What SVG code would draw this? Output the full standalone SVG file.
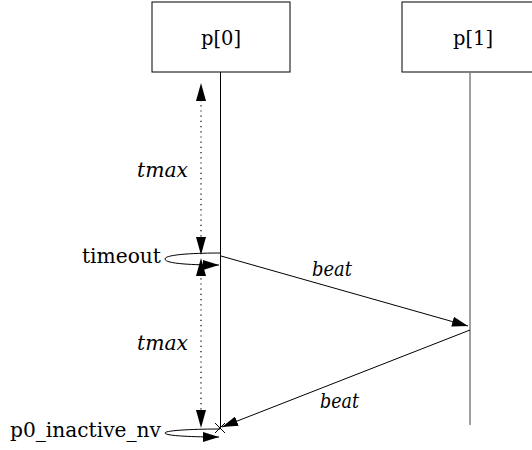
<svg xmlns="http://www.w3.org/2000/svg" width="532" height="450" viewBox="0 0 532 450">
<style>
.box{fill:#fff;stroke:#000;stroke-width:1}
.line{stroke:#000;stroke-width:1;fill:none}
.dot{stroke:#000;stroke-width:1.2;fill:none;stroke-dasharray:1.2 4}
text{font-family:"DejaVu Serif","Liberation Serif",serif;font-size:21px;fill:#000}
</style>
<defs>
<marker id="ah" viewBox="0 0 16 10" refX="16" refY="5" markerWidth="16" markerHeight="10" markerUnits="userSpaceOnUse" orient="auto">
<path d="M0,0 L16,5 L0,10 Z" fill="#000"/>
</marker>
<marker id="dh" viewBox="0 0 18 10" refX="18" refY="5" markerWidth="18" markerHeight="10" markerUnits="userSpaceOnUse" orient="auto">
<path d="M0,0 L18,5 L0,10 Z" fill="#000"/>
</marker>
</defs>
<g id="p0">
<rect class="box" x="152" y="2" width="138" height="70"/>
<text x="221" y="45" text-anchor="middle" textLength="40" lengthAdjust="spacingAndGlyphs">p[0]</text>
<line class="line" x1="220.5" y1="72" x2="220.5" y2="428"/>
</g>
<g id="p1">
<rect class="box" x="402" y="2" width="140" height="70"/>
<text x="473" y="45" text-anchor="middle" textLength="40" lengthAdjust="spacingAndGlyphs">p[1]</text>
<line x1="470" y1="72" x2="470" y2="425" stroke="#808080" stroke-width="1.5"/>
</g>
<g id="connectors">
<line class="dot" x1="201" y1="100" x2="201" y2="240"/>
<line class="dot" x1="201" y1="273" x2="201" y2="412"/>
<line class="line" x1="201" y1="180" x2="201" y2="83" marker-end="url(#dh)" stroke-opacity="0"/>
<line class="line" x1="201" y1="180" x2="201" y2="255" marker-end="url(#dh)" stroke-opacity="0"/>
<line class="line" x1="201" y1="340" x2="201" y2="258" marker-end="url(#dh)" stroke-opacity="0"/>
<line class="line" x1="201" y1="340" x2="201" y2="428" marker-end="url(#dh)" stroke-opacity="0"/>
<path class="line" d="M220,253 C200,253 165,254 165,259 C165,264 195,265 219,265" marker-end="url(#ah)"/>
<path class="line" d="M220,429 C200,429 165,430 165,433 C165,436 195,437 219,437" marker-end="url(#ah)"/>
<line class="line" x1="221" y1="256" x2="468" y2="326" marker-end="url(#ah)"/>
<line class="line" x1="470" y1="330" x2="222" y2="427" marker-end="url(#ah)"/>
<line class="line" x1="215" y1="423" x2="225" y2="433"/>
<line class="line" x1="225" y1="423" x2="215" y2="433"/>
</g>
<g id="labels">
<text font-style="italic" x="137" y="177" textLength="51" lengthAdjust="spacingAndGlyphs">tmax</text>
<text font-style="italic" x="137" y="350" textLength="51" lengthAdjust="spacingAndGlyphs">tmax</text>
<text x="82" y="263" textLength="79" lengthAdjust="spacingAndGlyphs">timeout</text>
<text x="10" y="437" textLength="151" lengthAdjust="spacingAndGlyphs">p0_inactive_nv</text>
<text font-style="italic" x="312" y="276" textLength="40" lengthAdjust="spacingAndGlyphs">beat</text>
<text font-style="italic" x="320" y="408" textLength="39" lengthAdjust="spacingAndGlyphs">beat</text>
</g>
</svg>
